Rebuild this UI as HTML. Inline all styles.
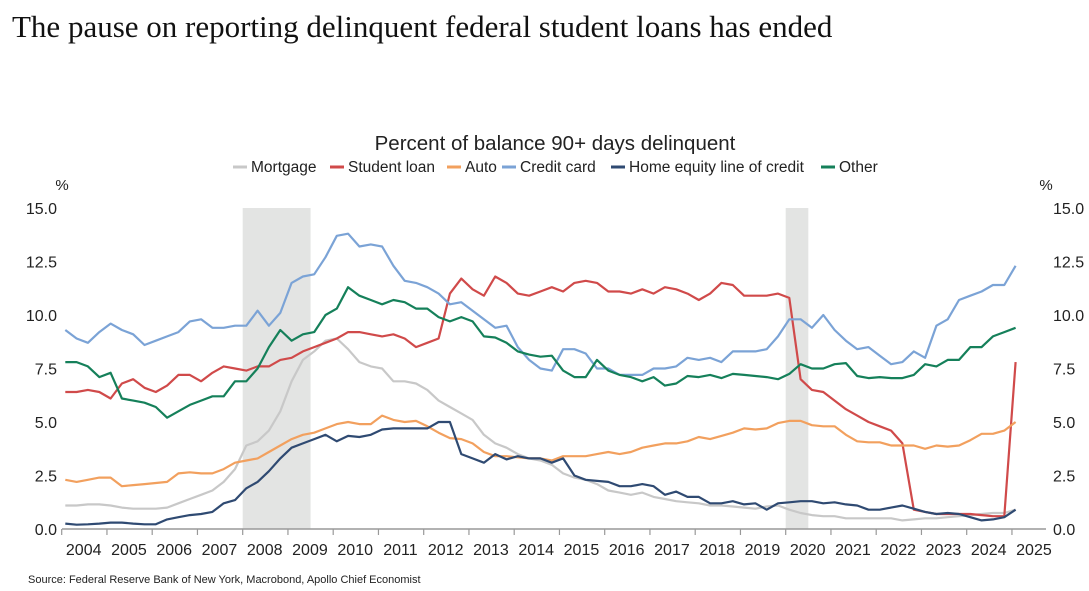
<!DOCTYPE html>
<html><head><meta charset="utf-8"><style>
body{margin:0;background:#fff;width:1089px;height:586px;overflow:hidden;font-family:"Liberation Sans",sans-serif}
</style></head><body>
<svg id="c" width="1089" height="586" xmlns="http://www.w3.org/2000/svg">
<text x="12" y="37" font-family="Liberation Serif,serif" font-size="31" fill="#111">The pause on reporting delinquent federal student loans has ended</text>
<text x="555" y="150" text-anchor="middle" font-size="20.5" fill="#222">Percent of balance 90+ days delinquent</text>
<text x="62" y="190" text-anchor="middle" font-size="15" fill="#222">%</text>
<text x="1046" y="190" text-anchor="middle" font-size="15" fill="#222">%</text>
<text x="28" y="583" font-size="11" fill="#222">Source: Federal Reserve Bank of New York, Macrobond, Apollo Chief Economist</text>
<g id="g"></g>
</svg>
<script>
const years=[2004,2005,2006,2007,2008,2009,2010,2011,2012,2013,2014,2015,2016,2017,2018,2019,2020,2021,2022,2023,2024,2025];
const yTicks=[0,2.5,5,7.5,10,12.5,15];
const recessions=[[2008.0,2009.5],[2020.0,2020.5]];
const mortgage=[1.1,1.1,1.15,1.15,1.1,1.0,0.95,0.95,0.95,1.0,1.2,1.4,1.6,1.8,2.2,2.8,3.9,4.1,4.6,5.5,6.9,7.9,8.3,8.8,8.9,8.4,7.8,7.6,7.5,6.9,6.9,6.8,6.5,6.0,5.7,5.4,5.1,4.4,4.0,3.8,3.5,3.3,3.2,3.0,2.6,2.4,2.3,2.1,1.8,1.7,1.6,1.7,1.5,1.4,1.3,1.25,1.2,1.1,1.1,1.05,1.0,0.95,1.05,1.1,0.9,0.75,0.65,0.6,0.6,0.5,0.5,0.5,0.5,0.5,0.4,0.45,0.5,0.5,0.55,0.6,0.65,0.7,0.75,0.75,0.9];
const student=[6.4,6.4,6.5,6.4,6.1,6.8,7.0,6.6,6.4,6.7,7.2,7.2,6.9,7.3,7.6,7.5,7.4,7.6,7.6,7.9,8.0,8.3,8.5,8.7,8.9,9.2,9.2,9.1,9.0,9.1,8.9,8.5,8.7,8.9,11.0,11.7,11.2,10.9,11.8,11.5,11.0,10.9,11.1,11.3,11.1,11.5,11.6,11.5,11.1,11.1,11.0,11.2,11.0,11.3,11.2,11.0,10.7,11.0,11.5,11.4,10.9,10.9,10.9,11.0,10.8,7.0,6.5,6.4,6.0,5.6,5.3,5.0,4.8,4.6,4.0,0.9,0.8,0.7,0.7,0.7,0.7,0.65,0.6,0.6,7.8];
const auto=[2.3,2.2,2.3,2.4,2.4,2.0,2.05,2.1,2.15,2.2,2.6,2.65,2.6,2.6,2.8,3.1,3.2,3.3,3.6,3.9,4.2,4.4,4.5,4.7,4.9,5.0,4.9,4.9,5.3,5.1,5.0,5.05,4.8,4.5,4.25,4.2,4.0,3.6,3.4,3.4,3.35,3.3,3.3,3.2,3.4,3.4,3.4,3.5,3.6,3.5,3.6,3.8,3.9,4.0,4.0,4.1,4.3,4.2,4.35,4.5,4.7,4.65,4.7,4.95,5.05,5.05,4.85,4.8,4.8,4.4,4.1,4.05,4.05,3.9,3.9,3.9,3.75,3.9,3.85,3.9,4.15,4.45,4.45,4.6,5.0];
const credit=[9.3,8.9,8.7,9.2,9.6,9.3,9.1,8.6,8.8,9.0,9.2,9.7,9.8,9.4,9.4,9.5,9.5,10.2,9.5,10.1,11.5,11.8,11.9,12.7,13.7,13.8,13.2,13.3,13.2,12.3,11.6,11.5,11.3,11.0,10.5,10.6,10.2,9.8,9.4,9.5,8.5,7.9,7.5,7.4,8.4,8.4,8.2,7.5,7.5,7.2,7.2,7.2,7.5,7.5,7.6,8.0,7.9,8.0,7.8,8.3,8.3,8.3,8.4,9.0,9.8,9.8,9.4,10.0,9.3,8.8,8.4,8.5,8.1,7.7,7.8,8.3,8.0,9.5,9.8,10.7,10.9,11.1,11.4,11.4,12.3];
const heloc=[0.25,0.2,0.22,0.25,0.3,0.3,0.25,0.22,0.22,0.45,0.55,0.65,0.7,0.8,1.2,1.35,1.9,2.2,2.7,3.3,3.8,4.0,4.2,4.4,4.1,4.35,4.3,4.4,4.65,4.7,4.7,4.7,4.7,5.0,5.0,3.5,3.3,3.1,3.5,3.25,3.4,3.3,3.3,3.1,3.3,2.5,2.3,2.25,2.2,2.0,2.0,2.1,2.0,1.6,1.75,1.5,1.5,1.2,1.2,1.3,1.15,1.2,0.9,1.2,1.25,1.3,1.3,1.2,1.25,1.15,1.1,0.9,0.9,1.0,1.1,0.95,0.8,0.7,0.75,0.7,0.55,0.4,0.45,0.55,0.9];
const other=[7.8,7.8,7.6,7.1,7.3,6.1,6.0,5.9,5.7,5.2,5.5,5.8,6.0,6.2,6.2,6.9,6.9,7.5,8.5,9.3,8.8,9.1,9.2,10.0,10.3,11.3,10.9,10.7,10.5,10.7,10.6,10.3,10.3,9.9,9.7,9.9,9.7,9.0,8.95,8.7,8.3,8.15,8.05,8.1,7.4,7.1,7.1,7.9,7.4,7.2,7.1,6.9,7.1,6.7,6.8,7.15,7.1,7.2,7.05,7.25,7.2,7.15,7.1,7.0,7.25,7.7,7.5,7.5,7.7,7.75,7.15,7.05,7.1,7.05,7.05,7.2,7.7,7.6,7.9,7.9,8.5,8.5,9.0,9.2,9.4];
const seriesNames=["Mortgage","Student loan","Auto","Credit card","Home equity line of credit","Other"];
const seriesColors=["#c8c8c8","#d04a4a","#f2a05e","#7ba3d6","#2f4a72","#15805a"];
const seriesData=[mortgage,student,auto,credit,heloc,other];
const NS="http://www.w3.org/2000/svg";
const g=document.getElementById('g');
const X=t=>61.7+45.25*(t-2004), Y=v=>529-v*21.4;
function mk(tag,at){const e=document.createElementNS(NS,tag);for(const k in at)e.setAttribute(k,at[k]);g.appendChild(e);return e;}
recessions.forEach((r,i)=>{const e=mk('rect',{x:X(r[0]),y:Y(15),width:X(r[1])-X(r[0]),height:Y(0)-Y(15),fill:'#e3e4e3'});

});
yTicks.forEach(v=>{let t=mk('text',{x:57,y:Y(v)+6,'text-anchor':'end','font-size':16,fill:'#222'});t.textContent=v.toFixed(1);


t=mk('text',{x:1053,y:Y(v)+6,'font-size':16,fill:'#222'});t.textContent=v.toFixed(1);

});
seriesData.forEach((d,i)=>{const pts=d.map((v,k)=>X(2004.08+k*0.25).toFixed(1)+','+Y(v).toFixed(1)).join(' ');
const p=mk('polyline',{points:pts,fill:'none',stroke:seriesColors[i],'stroke-width':2.2,'stroke-linejoin':'round'});

});
const ax=mk('line',{x1:62,x2:1046,y1:529,y2:529,stroke:'#999','stroke-width':1.5});


years.forEach((yr,i)=>{const tk=mk('line',{x1:X(yr),x2:X(yr),y1:529,y2:535,stroke:'#999','stroke-width':1.2});


const t=mk('text',{x:X(yr)+22,y:555,'text-anchor':'middle','font-size':16,fill:'#222'});t.textContent=yr;

});
// legend
let lx=233;const widths=[97,117,55,109,210,60];
seriesNames.forEach((n,i)=>{const l=mk('line',{x1:lx,x2:lx+14,y1:167,y2:167,stroke:seriesColors[i],'stroke-width':3});


const t=mk('text',{x:lx+18,y:172,'font-size':15.5,fill:'#222'});t.textContent=n;


lx+=widths[i];});
</script>
</body></html>
